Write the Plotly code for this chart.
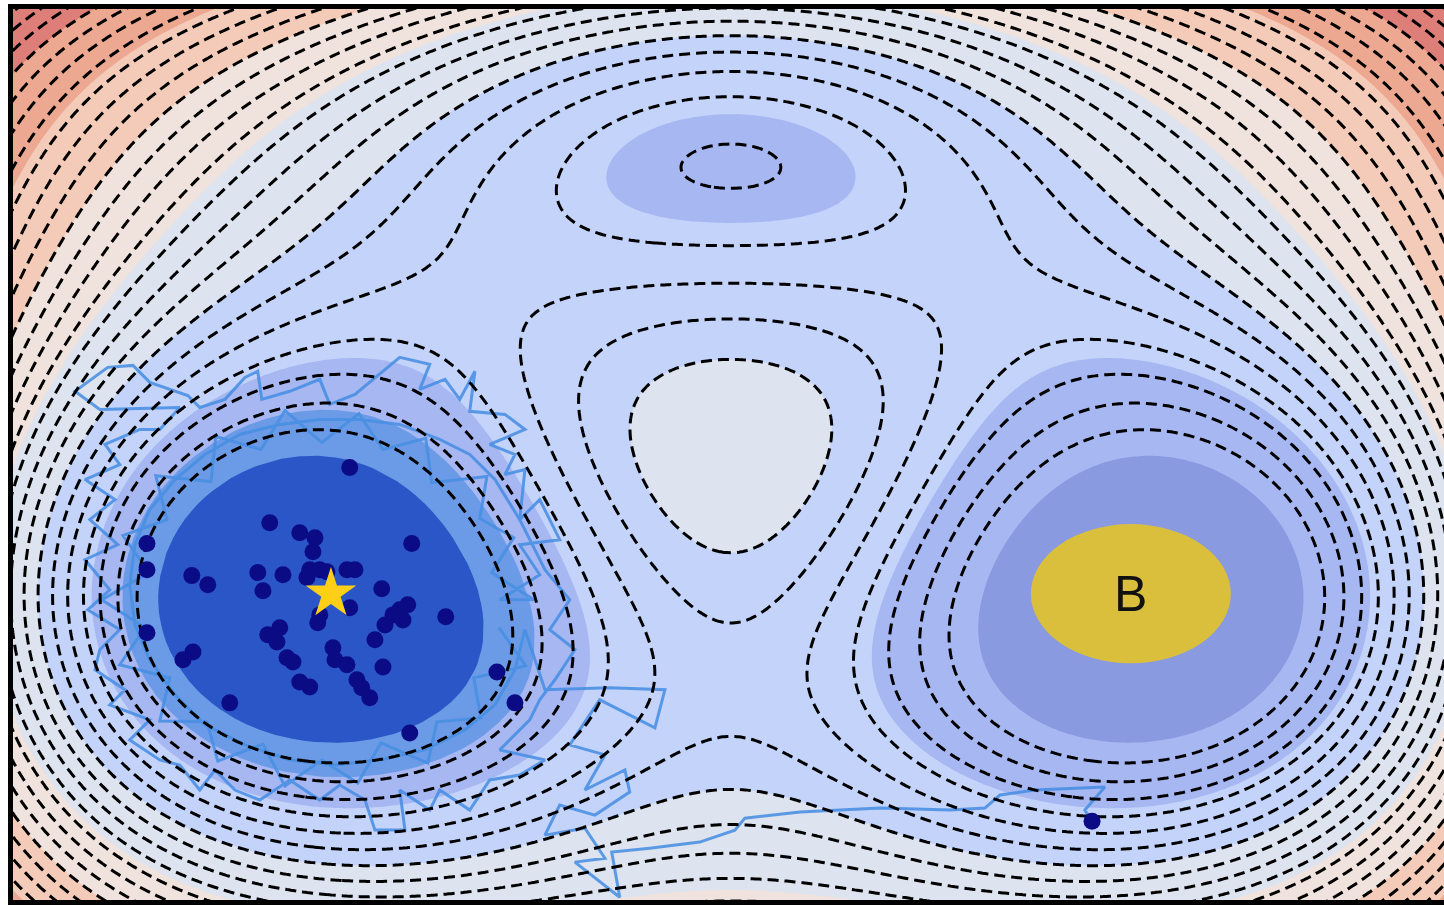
import numpy as np
import plotly.graph_objects as go

# ---- three-well potential: Gaussian terms + quartic confinement ----
WELL_AMP = [3.0, -3.0, -5.0, -5.0]
WELL_X = [0.0, 0.0, 1.0, -1.0]
WELL_Y = [1.0 / 3.0, 5.0 / 3.0, 0.0, 0.0]
QUARTIC_COEF = 0.2
QUARTIC_Y0 = 1.0 / 3.0

X_RANGE = [-1.795, 1.783]
Y_RANGE = [-1.1, 2.1]

# filled bands (integer energy levels) and their colours, lowest first
FILL_LEVELS = [-3, -2, -1, 0, 1, 2, 3, 4]
FILL_COLORS = ["#8a9ae1", "#a7b7f2", "#c3d3fa", "#dde3ef", "#f0e2dc",
               "#f4cbb8", "#eda892", "#dd7f78", "#cf6a68"]

# dashed iso-energy lines
LINE_START = -3.0 + 2.0 / 7.0
LINE_END = 4.6
LINE_STEP = 2.0 / 7.0

# state A highlight: deep core and densely visited shell
A_CORE_LEVEL = -3.0
A_SHELL_LEVEL = -2.5
A_CORE_COLOR = "#2b56c7"
A_SHELL_COLOR = "#6b9be6"

# sampled trajectory (x, y)
TRAJ_X = [-0.580, -0.513, -0.643, -0.625, -0.735, -0.758, -0.875, -0.933, -1.023, -1.115,
          -1.170, -1.283, -1.310, -1.428, -1.403, -1.528, -1.465, -1.573, -1.455, -1.520,
          -1.410, -1.438, -1.300, -1.288, -1.175, -1.115, -1.023, -0.930, -0.870, -0.763,
          -0.748, -0.610, -0.628, -0.543, -0.598, -0.493,
          -0.578, -0.478, -0.528, -0.428, -0.478, -0.528, -0.515, -0.565, -0.540, -0.603,
          -0.515, -0.565, -0.653, -0.640, -0.678, -0.715, -0.778, -0.753, -0.828, -0.890,
          -0.940, -1.003, -1.028, -1.103, -1.173, -1.183, -1.215, -1.265, -1.328, -1.358,
          -1.453, -1.495, -1.558, -1.640, -1.578, -1.378, -1.428, -1.478, -1.565, -1.528,
          -1.615, -1.540, -1.603, -1.533, -1.615, -1.553, -1.608, -1.528, -1.578, -1.590,
          -1.515, -1.553, -1.453, -1.503, -1.428, -1.378, -1.328, -1.290, -1.240, -1.178,
          -1.103, -1.028, -0.978, -0.915, -0.890, -0.815, -0.828, -0.753, -0.728, -0.653,
          -0.603, -0.528, -0.465, -0.578, -0.503, -0.478, -0.440, -0.390, -0.453, -0.403,
          -0.465, -0.528, -0.590, -0.653, -0.728, -0.828, -0.928, -1.028, -1.128, -1.228,
          -1.315, -1.390, -1.453, -1.490, -1.503, -1.490, -1.453, -1.390, -1.315, -1.215,
          -1.103, -0.990, -0.878, -0.765, -0.665, -0.590, -0.540, -0.515,
          -0.465, -0.303, -0.165, -0.190, -0.328, -0.403, -0.315, -0.365, -0.265, -0.253,
          -0.340, -0.428, -0.465, -0.365, -0.315, -0.390, -0.278, -0.298, -0.203, -0.078,
          0.010, 0.035, 0.173, 0.373, 0.548, 0.635, 0.673, 0.760, 0.935, 0.885, 0.903]
TRAJ_Y = [-0.122, -0.259, -0.302, -0.446, -0.460, -0.608, -0.536, -0.680, -0.597, -0.691,
          -0.540, -0.601, -0.460, -0.457, -0.302, -0.255, -0.122, -0.022, 0.076, 0.209,
          0.266, 0.424, 0.403, 0.565, 0.518, 0.658, 0.543, 0.647, 0.518, 0.558,
          0.399, 0.421, 0.270, 0.201, 0.076, -0.022,
          -0.022, 0.068, 0.176, 0.194, 0.338, 0.266, 0.446, 0.428, 0.500, 0.536,
          0.590, 0.644, 0.655, 0.799, 0.698, 0.770, 0.734, 0.824, 0.849, 0.777,
          0.716, 0.680, 0.770, 0.727, 0.698, 0.799, 0.777, 0.698, 0.669, 0.712,
          0.759, 0.820, 0.813, 0.727, 0.662, 0.669, 0.590, 0.590, 0.536, 0.464,
          0.410, 0.338, 0.266, 0.176, 0.122, 0.014, -0.058, -0.129, -0.201, -0.273,
          -0.345, -0.399, -0.453, -0.525, -0.597, -0.615, -0.705, -0.633, -0.705, -0.741,
          -0.669, -0.741, -0.687, -0.741, -0.849, -0.849, -0.705, -0.777, -0.705, -0.777,
          -0.669, -0.651, -0.597, -0.561, -0.453, -0.381, -0.309, -0.201, -0.129, -0.022,
          0.086, 0.266, 0.410, 0.500, 0.554, 0.608, 0.626, 0.626, 0.608, 0.572,
          0.500, 0.410, 0.302, 0.176, 0.032, -0.112, -0.237, -0.363, -0.471, -0.543,
          -0.597, -0.615, -0.597, -0.561, -0.489, -0.399, -0.273, -0.129,
          -0.345, -0.338, -0.345, -0.482, -0.381, -0.543, -0.579, -0.705, -0.633, -0.712,
          -0.795, -0.759, -0.867, -0.842, -0.950, -0.964, -1.090, -0.928, -0.914, -0.892,
          -0.849, -0.806, -0.784, -0.770, -0.777, -0.770, -0.723, -0.705, -0.694, -0.777, -0.817]

# walker end points
WALKER_X = [-0.953, -1.153, -1.078, -1.040, -1.045, -0.798, -1.460, -1.460, -1.348, -1.308,
            -1.183, -1.170, -1.120, -1.053, -1.028, -1.010, -1.060, -0.960, -0.940, -0.873,
            -0.953, -1.028, -1.033, -0.808, -0.828, -0.845, -0.820, -0.865, -0.713, -0.890,
            -1.128, -1.158, -1.135, -1.110, -1.095, -1.345, -1.370, -1.460, -0.995, -0.990,
            -0.960, -0.870, -0.935, -0.923, -0.903, -1.078, -1.053, -1.253, -0.585, -0.540,
            -0.803, 0.903]
WALKER_Y = [0.453, 0.255, 0.219, 0.201, 0.151, 0.180, 0.180, 0.086, 0.065, 0.032,
            0.076, 0.011, 0.068, 0.086, 0.086, 0.079, 0.058, 0.086, 0.086, 0.018,
            -0.050, -0.076, -0.104, -0.040, -0.058, -0.076, -0.094, -0.112, -0.083, -0.165,
            -0.122, -0.147, -0.173, -0.230, -0.245, -0.209, -0.237, -0.140, -0.194, -0.237,
            -0.255, -0.263, -0.309, -0.338, -0.374, -0.317, -0.335, -0.392, -0.281, -0.392,
            -0.500, -0.817]

START_POINT = (-1.0, 0.0)
B_CENTER = (1.0, 0.0)
B_RADIUS = 0.25
B_LABEL = "B"


def potential(X, Y):
    V = QUARTIC_COEF * X ** 4 + QUARTIC_COEF * (Y - QUARTIC_Y0) ** 4
    for a, x0, y0 in zip(WELL_AMP, WELL_X, WELL_Y):
        V = V + a * np.exp(-(X - x0) ** 2 - (Y - y0) ** 2)
    return V


def level_outline(cx, cy, level, n_ang=721, r_max=1.2, n_r=2401):
    """Closed outline of the sub-level set {V < level} around (cx, cy)."""
    th = np.linspace(0.0, 2.0 * np.pi, n_ang)
    rr = np.linspace(0.0, r_max, n_r)
    T, R = np.meshgrid(th, rr, indexing="ij")
    VV = potential(cx + R * np.cos(T), cy + R * np.sin(T))
    idx = np.argmax(VV >= level, axis=1)
    r_edge = rr[idx]
    return cx + r_edge * np.cos(th), cy + r_edge * np.sin(th)


xs = np.linspace(-1.82, 1.82, 365)
ys = np.linspace(-1.12, 2.12, 325)
XX, YY = np.meshgrid(xs, ys)
V = potential(XX, YY)

# minimum of the left well (centre of state A)
left = XX < 0
i_min = np.argmin(np.where(left, V, np.inf))
a_cx, a_cy = XX.flat[i_min], YY.flat[i_min]

# stepped colour scale for the filled bands
n_lv = len(FILL_LEVELS)
fill_scale = []
for k in range(n_lv):
    lo = k / n_lv
    hi = (k + 1) / n_lv - 1e-4 if k < n_lv - 1 else 1 - 1e-4
    fill_scale.append([lo, FILL_COLORS[k]])
    fill_scale.append([hi, FILL_COLORS[k]])
fill_scale.append([1.0, FILL_COLORS[n_lv]])

fig = go.Figure()

# base layer: filled energy bands
fig.add_trace(go.Contour(
    x=xs, y=ys, z=V,
    autocontour=False,
    contours=dict(start=FILL_LEVELS[0], end=FILL_LEVELS[-1], size=1, coloring="fill"),
    colorscale=fill_scale,
    line=dict(width=0),
    showscale=False, hoverinfo="skip",
))

# state A shell and core
sx, sy = level_outline(a_cx, a_cy, A_SHELL_LEVEL)
fig.add_trace(go.Scatter(x=sx, y=sy, mode="lines", fill="toself",
                         fillcolor=A_SHELL_COLOR, line=dict(width=0),
                         hoverinfo="skip", showlegend=False))
cx_, cy_ = level_outline(a_cx, a_cy, A_CORE_LEVEL)
fig.add_trace(go.Scatter(x=cx_, y=cy_, mode="lines", fill="toself",
                         fillcolor=A_CORE_COLOR, line=dict(width=0),
                         hoverinfo="skip", showlegend=False))

# trajectory
fig.add_trace(go.Scatter(
    x=TRAJ_X, y=TRAJ_Y, mode="lines",
    line=dict(color="rgba(72,142,226,0.88)", width=3),
    hoverinfo="skip", showlegend=False,
))

# overlay: dashed iso-lines and markers on top
fig.add_trace(go.Contour(
    x=xs, y=ys, z=V, xaxis="x2", yaxis="y2",
    autocontour=False,
    contours=dict(start=LINE_START, end=LINE_END, size=LINE_STEP, coloring="none"),
    line=dict(color="black", width=3, dash="11px,6px", smoothing=1),
    showscale=False, hoverinfo="skip",
))

fig.add_trace(go.Scatter(
    x=WALKER_X, y=WALKER_Y, xaxis="x2", yaxis="y2", mode="markers",
    marker=dict(color="#0b0b85", size=17, line=dict(width=0)),
    hoverinfo="skip", showlegend=False,
))

fig.add_trace(go.Scatter(
    x=[START_POINT[0]], y=[START_POINT[1]], xaxis="x2", yaxis="y2", mode="markers",
    marker=dict(symbol="star", color="#fdd017", size=38, line=dict(width=0)),
    hoverinfo="skip", showlegend=False,
))

fig.add_shape(
    type="circle", xref="x", yref="y",
    x0=B_CENTER[0] - B_RADIUS, x1=B_CENTER[0] + B_RADIUS,
    y0=B_CENTER[1] - B_RADIUS, y1=B_CENTER[1] + B_RADIUS,
    fillcolor="#dabf3c", line=dict(width=0), layer="above",
)
fig.add_annotation(
    x=B_CENTER[0], y=B_CENTER[1], text=B_LABEL, showarrow=False,
    font=dict(size=50, color="#111111", family="Liberation Sans, Arial, sans-serif"),
)

fig.update_layout(
    width=1444, height=905,
    margin=dict(l=13, r=0, t=9, b=5),
    paper_bgcolor="white", plot_bgcolor="white",
    showlegend=False,
    xaxis=dict(range=X_RANGE, showgrid=False, zeroline=False, showticklabels=False,
               ticks="", showline=True, linewidth=5, linecolor="black", mirror=True),
    yaxis=dict(range=Y_RANGE, showgrid=False, zeroline=False, showticklabels=False,
               ticks="", showline=True, linewidth=5, linecolor="black", mirror=False),
    xaxis2=dict(range=X_RANGE, overlaying="x", visible=False),
    yaxis2=dict(range=Y_RANGE, overlaying="y", visible=False),
)

fig.write_html("out.html")
